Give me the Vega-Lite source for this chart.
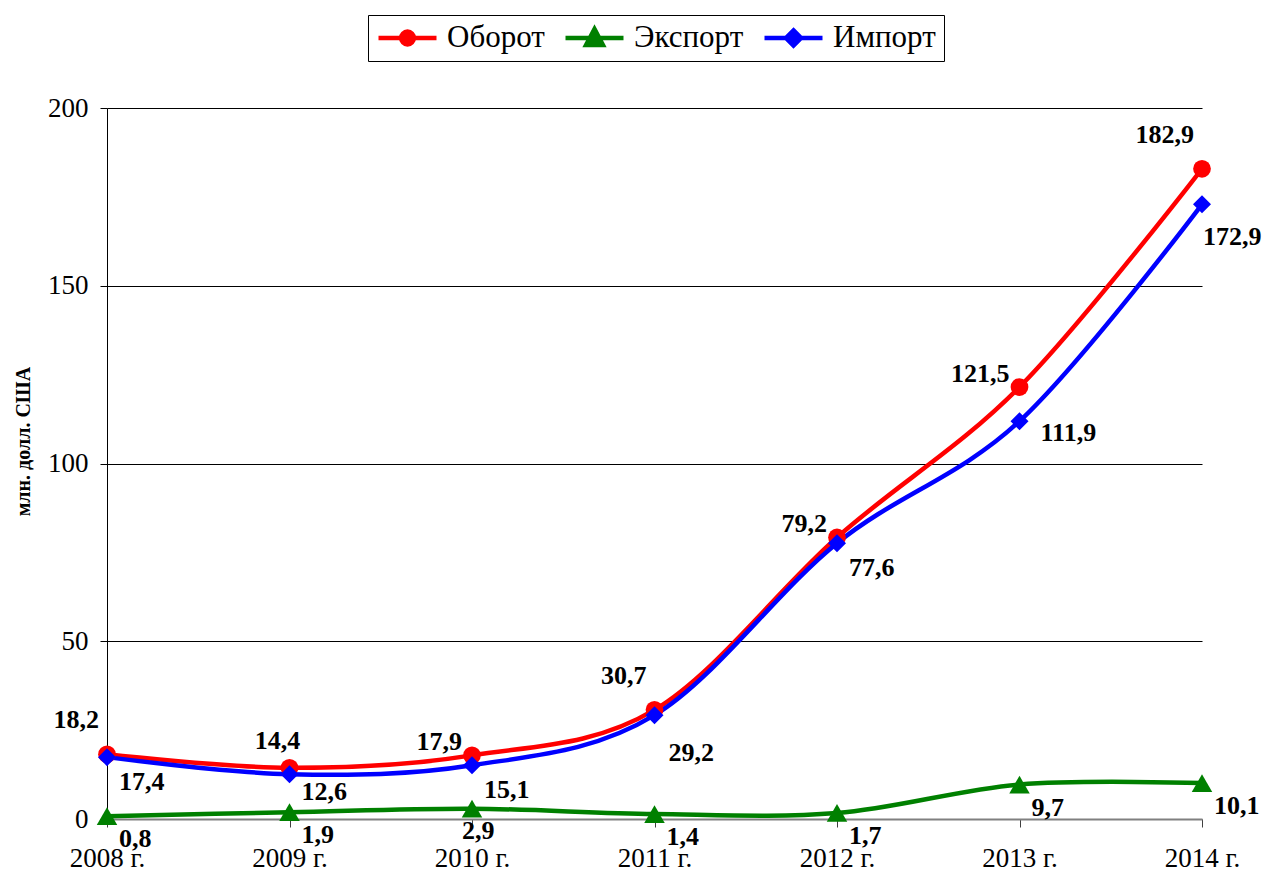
{
  "$schema": "https://vega.github.io/schema/vega-lite/v6.json",
  "width": 1095,
  "height": 711,
  "autosize": {"type": "none"},
  "padding": {"left": 107, "top": 108, "right": 60, "bottom": 52},
  "data": {
    "values": [
      {"year": "2008 г.", "series": "Оборот", "value": 18.2, "label": "18,2"},
      {"year": "2009 г.", "series": "Оборот", "value": 14.4, "label": "14,4"},
      {"year": "2010 г.", "series": "Оборот", "value": 17.9, "label": "17,9"},
      {"year": "2011 г.", "series": "Оборот", "value": 30.7, "label": "30,7"},
      {"year": "2012 г.", "series": "Оборот", "value": 79.2, "label": "79,2"},
      {"year": "2013 г.", "series": "Оборот", "value": 121.5, "label": "121,5"},
      {"year": "2014 г.", "series": "Оборот", "value": 182.9, "label": "182,9"},
      {"year": "2008 г.", "series": "Экспорт", "value": 0.8, "label": "0,8"},
      {"year": "2009 г.", "series": "Экспорт", "value": 1.9, "label": "1,9"},
      {"year": "2010 г.", "series": "Экспорт", "value": 2.9, "label": "2,9"},
      {"year": "2011 г.", "series": "Экспорт", "value": 1.4, "label": "1,4"},
      {"year": "2012 г.", "series": "Экспорт", "value": 1.7, "label": "1,7"},
      {"year": "2013 г.", "series": "Экспорт", "value": 9.7, "label": "9,7"},
      {"year": "2014 г.", "series": "Экспорт", "value": 10.1, "label": "10,1"},
      {"year": "2008 г.", "series": "Импорт", "value": 17.4, "label": "17,4"},
      {"year": "2009 г.", "series": "Импорт", "value": 12.6, "label": "12,6"},
      {"year": "2010 г.", "series": "Импорт", "value": 15.1, "label": "15,1"},
      {"year": "2011 г.", "series": "Импорт", "value": 29.2, "label": "29,2"},
      {"year": "2012 г.", "series": "Импорт", "value": 77.6, "label": "77,6"},
      {"year": "2013 г.", "series": "Импорт", "value": 111.9, "label": "111,9"},
      {"year": "2014 г.", "series": "Импорт", "value": 172.9, "label": "172,9"}
    ]
  },
  "encoding": {
    "x": {
      "field": "year",
      "type": "ordinal",
      "sort": null,
      "scale": {"type": "point", "padding": 0},
      "axis": {
        "title": null,
        "labelAngle": 0,
        "labelFont": "Liberation Serif",
        "labelFontSize": 27,
        "labelColor": "black",
        "labelPadding": 18,
        "domainColor": "#808080",
        "domainWidth": 2,
        "tickColor": "#404040",
        "tickSize": 8,
        "tickWidth": 1,
        "grid": false
      }
    },
    "y": {
      "field": "value",
      "type": "quantitative",
      "scale": {"domain": [0, 200], "nice": false},
      "axis": {
        "title": "млн. долл. США",
        "values": [0, 50, 100, 150, 200],
        "labelFont": "Liberation Serif",
        "labelFontSize": 27,
        "labelColor": "black",
        "labelPadding": 12,
        "domainColor": "black",
        "tickColor": "black",
        "tickSize": 7,
        "grid": true,
        "gridColor": {"condition": {"test": "datum.value === 0", "value": "#808080"}, "value": "black"},
        "gridOpacity": 1,
        "gridWidth": 1,
        "titleFont": "Liberation Serif",
        "titleFontSize": 20,
        "titleFontWeight": "bold",
        "titleColor": "black",
        "titleAngle": 270,
        "titleBaseline": "bottom",
        "titleX": -74,
        "titleY": 333
      }
    }
  },
  "layer": [
    {
      "transform": [{"filter": "datum.series === 'Оборот'"}],
      "mark": {"type": "line", "interpolate": "cardinal", "strokeWidth": 4.5, "color": "#FF0000"}
    },
    {
      "transform": [{"filter": "datum.series === 'Экспорт'"}],
      "mark": {"type": "line", "interpolate": "cardinal", "strokeWidth": 4.5, "color": "#008000"}
    },
    {
      "transform": [{"filter": "datum.series === 'Импорт'"}],
      "mark": {"type": "line", "interpolate": "cardinal", "strokeWidth": 4.5, "color": "#0000FF"}
    },
    {
      "transform": [{"filter": "datum.series === 'Оборот'"}],
      "mark": {"type": "point", "shape": "circle", "filled": true, "size": 314, "color": "#FF0000", "opacity": 1}
    },
    {
      "transform": [{"filter": "datum.series === 'Экспорт'"}],
      "mark": {"type": "point", "shape": "triangle-up", "filled": true, "size": 420, "color": "#008000", "opacity": 1}
    },
    {
      "transform": [{"filter": "datum.series === 'Импорт'"}],
      "mark": {"type": "point", "shape": "diamond", "filled": true, "size": 324, "color": "#0000FF", "opacity": 1}
    },
    {
      "transform": [{"filter": "datum.series === 'Оборот' && (datum.year === '2008 г.' || datum.year === '2011 г.' || datum.year === '2014 г.')"}],
      "mark": {"type": "text", "align": "right", "baseline": "middle", "dx": -8, "dy": -34, "font": "Liberation Serif", "fontSize": 26, "fontWeight": "bold", "color": "black"},
      "encoding": {"text": {"field": "label"}}
    },
    {
      "transform": [{"filter": "datum.series === 'Оборот' && datum.year === '2009 г.'"}],
      "mark": {"type": "text", "align": "center", "baseline": "middle", "dx": -12, "dy": -27, "font": "Liberation Serif", "fontSize": 26, "fontWeight": "bold", "color": "black"},
      "encoding": {"text": {"field": "label"}}
    },
    {
      "transform": [{"filter": "datum.series === 'Оборот' && (datum.year === '2010 г.' || datum.year === '2012 г.' || datum.year === '2013 г.')"}],
      "mark": {"type": "text", "align": "right", "baseline": "middle", "dx": -10, "dy": -13, "font": "Liberation Serif", "fontSize": 26, "fontWeight": "bold", "color": "black"},
      "encoding": {"text": {"field": "label"}}
    },
    {
      "transform": [{"filter": "datum.series === 'Экспорт' && datum.year !== '2010 г.'"}],
      "mark": {"type": "text", "align": "left", "baseline": "middle", "dx": 12, "dy": 23, "font": "Liberation Serif", "fontSize": 26, "fontWeight": "bold", "color": "black"},
      "encoding": {"text": {"field": "label"}}
    },
    {
      "transform": [{"filter": "datum.series === 'Экспорт' && datum.year === '2010 г.'"}],
      "mark": {"type": "text", "align": "left", "baseline": "middle", "dx": -10, "dy": 22, "font": "Liberation Serif", "fontSize": 26, "fontWeight": "bold", "color": "black"},
      "encoding": {"text": {"field": "label"}}
    },
    {
      "transform": [{"filter": "datum.series === 'Импорт' && (datum.year === '2008 г.' || datum.year === '2010 г.' || datum.year === '2012 г.')"}],
      "mark": {"type": "text", "align": "left", "baseline": "middle", "dx": 12, "dy": 25, "font": "Liberation Serif", "fontSize": 26, "fontWeight": "bold", "color": "black"},
      "encoding": {"text": {"field": "label"}}
    },
    {
      "transform": [{"filter": "datum.series === 'Импорт' && datum.year === '2009 г.'"}],
      "mark": {"type": "text", "align": "left", "baseline": "middle", "dx": 12, "dy": 18, "font": "Liberation Serif", "fontSize": 26, "fontWeight": "bold", "color": "black"},
      "encoding": {"text": {"field": "label"}}
    },
    {
      "transform": [{"filter": "datum.series === 'Импорт' && datum.year === '2011 г.'"}],
      "mark": {"type": "text", "align": "left", "baseline": "middle", "dx": 14, "dy": 38, "font": "Liberation Serif", "fontSize": 26, "fontWeight": "bold", "color": "black"},
      "encoding": {"text": {"field": "label"}}
    },
    {
      "transform": [{"filter": "datum.series === 'Импорт' && datum.year === '2013 г.'"}],
      "mark": {"type": "text", "align": "left", "baseline": "middle", "dx": 21, "dy": 12, "font": "Liberation Serif", "fontSize": 26, "fontWeight": "bold", "color": "black"},
      "encoding": {"text": {"field": "label"}}
    },
    {
      "transform": [{"filter": "datum.series === 'Импорт' && datum.year === '2014 г.'"}],
      "mark": {"type": "text", "align": "left", "baseline": "middle", "dx": 1, "dy": 33, "font": "Liberation Serif", "fontSize": 26, "fontWeight": "bold", "color": "black"},
      "encoding": {"text": {"field": "label"}}
    },
    {
      "transform": [{"filter": "datum.value < -1"}],
      "mark": {"type": "point", "filled": true, "size": 3364, "strokeWidth": 4.5, "opacity": 1},
      "encoding": {
        "color": {
          "field": "series",
          "type": "nominal",
          "scale": {"domain": ["Оборот", "Экспорт", "Импорт"], "range": ["#FF0000", "#008000", "#0000FF"]},
          "legend": {
            "title": null,
            "orient": "none",
            "legendX": 261,
            "legendY": -93,
            "direction": "horizontal",
            "strokeColor": "black",
            "fillColor": "white",
            "padding": 8,
            "labelFont": "Liberation Serif",
            "labelFontSize": 31,
            "labelColor": "black",
            "labelOffset": 8,
            "columnPadding": 18,
            "clipHeight": 30,
            "symbolSize": 3364,
            "symbolStrokeWidth": 4.5,
            "symbolOpacity": 1
          }
        },
        "stroke": {
          "field": "series",
          "type": "nominal",
          "scale": {"domain": ["Оборот", "Экспорт", "Импорт"], "range": ["#FF0000", "#008000", "#0000FF"]},
          "legend": {
            "title": null,
            "orient": "none",
            "legendX": 261,
            "legendY": -93,
            "direction": "horizontal",
            "strokeColor": "black",
            "fillColor": "white",
            "padding": 8,
            "labelFont": "Liberation Serif",
            "labelFontSize": 31,
            "labelColor": "black",
            "labelOffset": 8,
            "columnPadding": 18,
            "clipHeight": 30,
            "symbolSize": 3364,
            "symbolStrokeWidth": 4.5,
            "symbolOpacity": 1
          }
        },
        "shape": {
          "field": "series",
          "type": "nominal",
          "scale": {
            "domain": ["Оборот", "Экспорт", "Импорт"],
            "range": [
              "M-1,0H1M0.22,0A0.22,0.22,0,1,1,-0.22,0A0.22,0.22,0,1,1,0.22,0Z",
              "M-1,0H1M0,-0.31L0.29,0.24L-0.29,0.24Z",
              "M-1,0H1M0,-0.26L0.26,0L0,0.26L-0.26,0Z"
            ]
          },
          "legend": {
            "title": null,
            "orient": "none",
            "legendX": 261,
            "legendY": -93,
            "direction": "horizontal",
            "strokeColor": "black",
            "fillColor": "white",
            "padding": 8,
            "labelFont": "Liberation Serif",
            "labelFontSize": 31,
            "labelColor": "black",
            "labelOffset": 8,
            "columnPadding": 18,
            "clipHeight": 30,
            "symbolSize": 3364,
            "symbolStrokeWidth": 4.5,
            "symbolOpacity": 1
          }
        }
      }
    }
  ],
  "config": {
    "font": "Liberation Serif",
    "view": {"stroke": null},
    "text": {"font": "Liberation Serif"},
    "legend": {"labelFont": "Liberation Serif"},
    "axis": {"labelFont": "Liberation Serif", "titleFont": "Liberation Serif"}
  }
}
